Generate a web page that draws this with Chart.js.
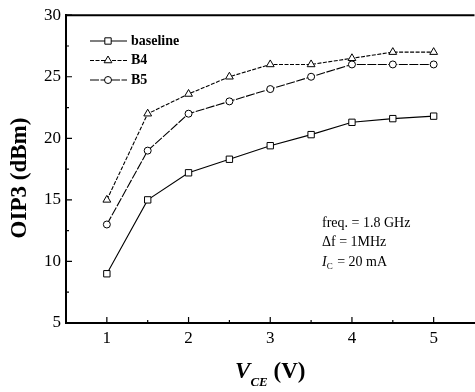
<!DOCTYPE html>
<html>
<head>
<meta charset="utf-8">
<script src="https://cdn.jsdelivr.net/npm/chart.js@4/dist/chart.umd.min.js"></script>
<style>
  html, body { margin: 0; padding: 0; background: #fff; overflow: hidden; }
  canvas { display: block; }
</style>
</head>
<body>
<canvas id="chartOIP3" width="480" height="392" style="width:480px;height:392px"></canvas>
<script>
// Données
const vce = [1, 1.5, 2, 2.5, 3, 3.5, 4, 4.5, 5];
const baseline = [9, 15, 17.2, 18.3, 19.4, 20.3, 21.3, 21.6, 21.8];
const b4 = [15, 22, 23.6, 25, 26, 26, 26.5, 27, 27];
const b5 = [13, 19, 22, 23, 24, 25, 26, 26, 26];
const xTicks = [1, 2, 3, 4, 5];
const yTicks = [5, 10, 15, 20, 25, 30];
const xMinor = [1.5, 2.5, 3.5, 4.5];
const yMinor = [7.5, 12.5, 17.5, 22.5, 27.5];
const seriesNames = ['baseline', 'B4', 'B5'];
const notes = ['freq. = 1.8 GHz', '\u0394f = 1MHz'];

const SERIF = '"Liberation Serif", "DejaVu Serif", serif';

const toPoints = ys => vce.map((x, i) => ({ x: x, y: ys[i] }));

/**
 * Axes, légende, annotations et titres
 */
const decorPlugin = {
    id: 'decor',
    afterDraw(chart) {
        const ctx = chart.ctx;
        const xs = chart.scales.x;
        const ys = chart.scales.y;
        const area = chart.chartArea;

        ctx.save();
        ctx.strokeStyle = '#000';
        ctx.fillStyle = '#000';

        // bord supérieur
        ctx.lineWidth = 2;
        ctx.beginPath();
        ctx.moveTo(area.left, area.top);
        ctx.lineTo(area.right, area.top);
        ctx.stroke();

        // graduations vers l'intérieur
        ctx.lineWidth = 1.2;
        ctx.beginPath();
        xTicks.forEach(v => {
            const px = xs.getPixelForValue(v);
            ctx.moveTo(px, area.bottom);
            ctx.lineTo(px, area.bottom - 6);
        });
        xMinor.forEach(v => {
            const px = xs.getPixelForValue(v);
            ctx.moveTo(px, area.bottom);
            ctx.lineTo(px, area.bottom - 3);
        });
        yTicks.forEach(v => {
            const py = ys.getPixelForValue(v);
            ctx.moveTo(area.left, py);
            ctx.lineTo(area.left + 6, py);
        });
        yMinor.forEach(v => {
            const py = ys.getPixelForValue(v);
            ctx.moveTo(area.left, py);
            ctx.lineTo(area.left + 3, py);
        });
        ctx.stroke();

        // légende
        ctx.font = 'bold 14px ' + SERIF;
        ctx.textBaseline = 'middle';
        chart.data.datasets.forEach((ds, i) => {
            const y = 41 + i * 19.5;
            ctx.save();
            ctx.lineWidth = 1.1;
            ctx.setLineDash(ds.borderDash || []);
            ctx.beginPath();
            ctx.moveTo(90, y);
            ctx.lineTo(127, y);
            ctx.stroke();
            ctx.restore();
            const meta = chart.getDatasetMeta(i);
            const opts = meta.data[0].options;
            ctx.save();
            ctx.lineWidth = 1;
            ctx.fillStyle = '#fff';
            Chart.helpers.drawPoint(ctx, {
                pointStyle: ds.pointStyle,
                radius: opts.radius,
                borderWidth: 1,
                rotation: 0
            }, 108, y);
            ctx.restore();
            ctx.fillText(ds.label, 131, y);
        });

        // annotations
        ctx.font = '14px ' + SERIF;
        ctx.textAlign = 'left';
        notes.forEach((t, i) => ctx.fillText(t, 322, 223 + i * 19.5));
        let x0 = 322;
        const y3 = 262;
        ctx.font = 'italic 14px ' + SERIF;
        ctx.fillText('I', x0, y3);
        x0 += ctx.measureText('I').width;
        ctx.font = '9px ' + SERIF;
        ctx.fillText('C', x0, y3 + 5);
        x0 += ctx.measureText('C').width + 1;
        ctx.font = '14px ' + SERIF;
        ctx.fillText(' = 20 mA', x0, y3);

        // titre axe Y
        ctx.save();
        ctx.translate(20, 178);
        ctx.rotate(-Math.PI / 2);
        ctx.textAlign = 'center';
        ctx.font = 'bold 23px ' + SERIF;
        ctx.fillText('OIP3 (dBm)', 0, 0);
        ctx.restore();

        // titre axe X : V_CE (V)
        const fBig = 'bold italic 23px ' + SERIF;
        const fSub = 'bold italic 13px ' + SERIF;
        const fRest = 'bold 23px ' + SERIF;
        ctx.textBaseline = 'alphabetic';
        ctx.font = fBig; const wV = ctx.measureText('V').width;
        ctx.font = fSub; const wCE = ctx.measureText('CE').width;
        ctx.font = fRest; const wR = ctx.measureText(' (V)').width;
        let xt = (area.left + area.right) / 2 - (wV + wCE + wR) / 2;
        const yt = 378;
        ctx.textAlign = 'left';
        ctx.font = fBig; ctx.fillText('V', xt, yt); xt += wV;
        ctx.font = fSub; ctx.fillText('CE', xt, yt + 8); xt += wCE;
        ctx.font = fRest; ctx.fillText(' (V)', xt, yt);

        ctx.restore();
    }
};

function initChart() {
    const ctx = document.getElementById('chartOIP3');
    const styles = [
        { pointStyle: 'rect', radius: 4.5, dash: [] },
        { pointStyle: 'triangle', radius: 4.5, dash: [4, 1.5] },
        { pointStyle: 'circle', radius: 3.5, dash: [9, 1.5] }
    ];
    const values = [baseline, b4, b5];

    new Chart(ctx, {
        type: 'line',
        data: {
            datasets: values.map((v, i) => ({
                label: seriesNames[i],
                data: toPoints(v),
                borderColor: '#000',
                borderWidth: 1.1,
                borderDash: styles[i].dash,
                pointStyle: styles[i].pointStyle,
                pointRadius: styles[i].radius,
                pointBackgroundColor: '#fff',
                pointBorderColor: '#000',
                pointBorderWidth: 1,
                tension: 0,
                fill: false
            }))
        },
        options: {
            responsive: false,
            animation: false,
            devicePixelRatio: 1,
            layout: { padding: { top: 15, right: 2, left: 0, bottom: 0 } },
            plugins: {
                legend: { display: false },
                tooltip: { enabled: false }
            },
            scales: {
                x: {
                    type: 'linear',
                    min: 0.5,
                    max: 5.5,
                    afterBuildTicks: s => { s.ticks = xTicks.map(v => ({ value: v })); },
                    afterFit: s => { s.height = 69; },
                    grid: { display: false, drawTicks: false },
                    border: { display: true, color: '#000', width: 2 },
                    ticks: {
                        padding: 5,
                        color: '#000',
                        font: { family: SERIF, size: 17 },
                        maxRotation: 0
                    }
                },
                y: {
                    min: 5,
                    max: 30,
                    afterBuildTicks: s => { s.ticks = yTicks.map(v => ({ value: v })); },
                    afterFit: s => { s.width = 66; },
                    grid: { display: false, drawTicks: false },
                    border: { display: true, color: '#000', width: 2 },
                    ticks: {
                        padding: 5,
                        color: '#000',
                        font: { family: SERIF, size: 17 }
                    }
                }
            }
        },
        plugins: [decorPlugin]
    });
}

initChart();
</script>
</body>
</html>
